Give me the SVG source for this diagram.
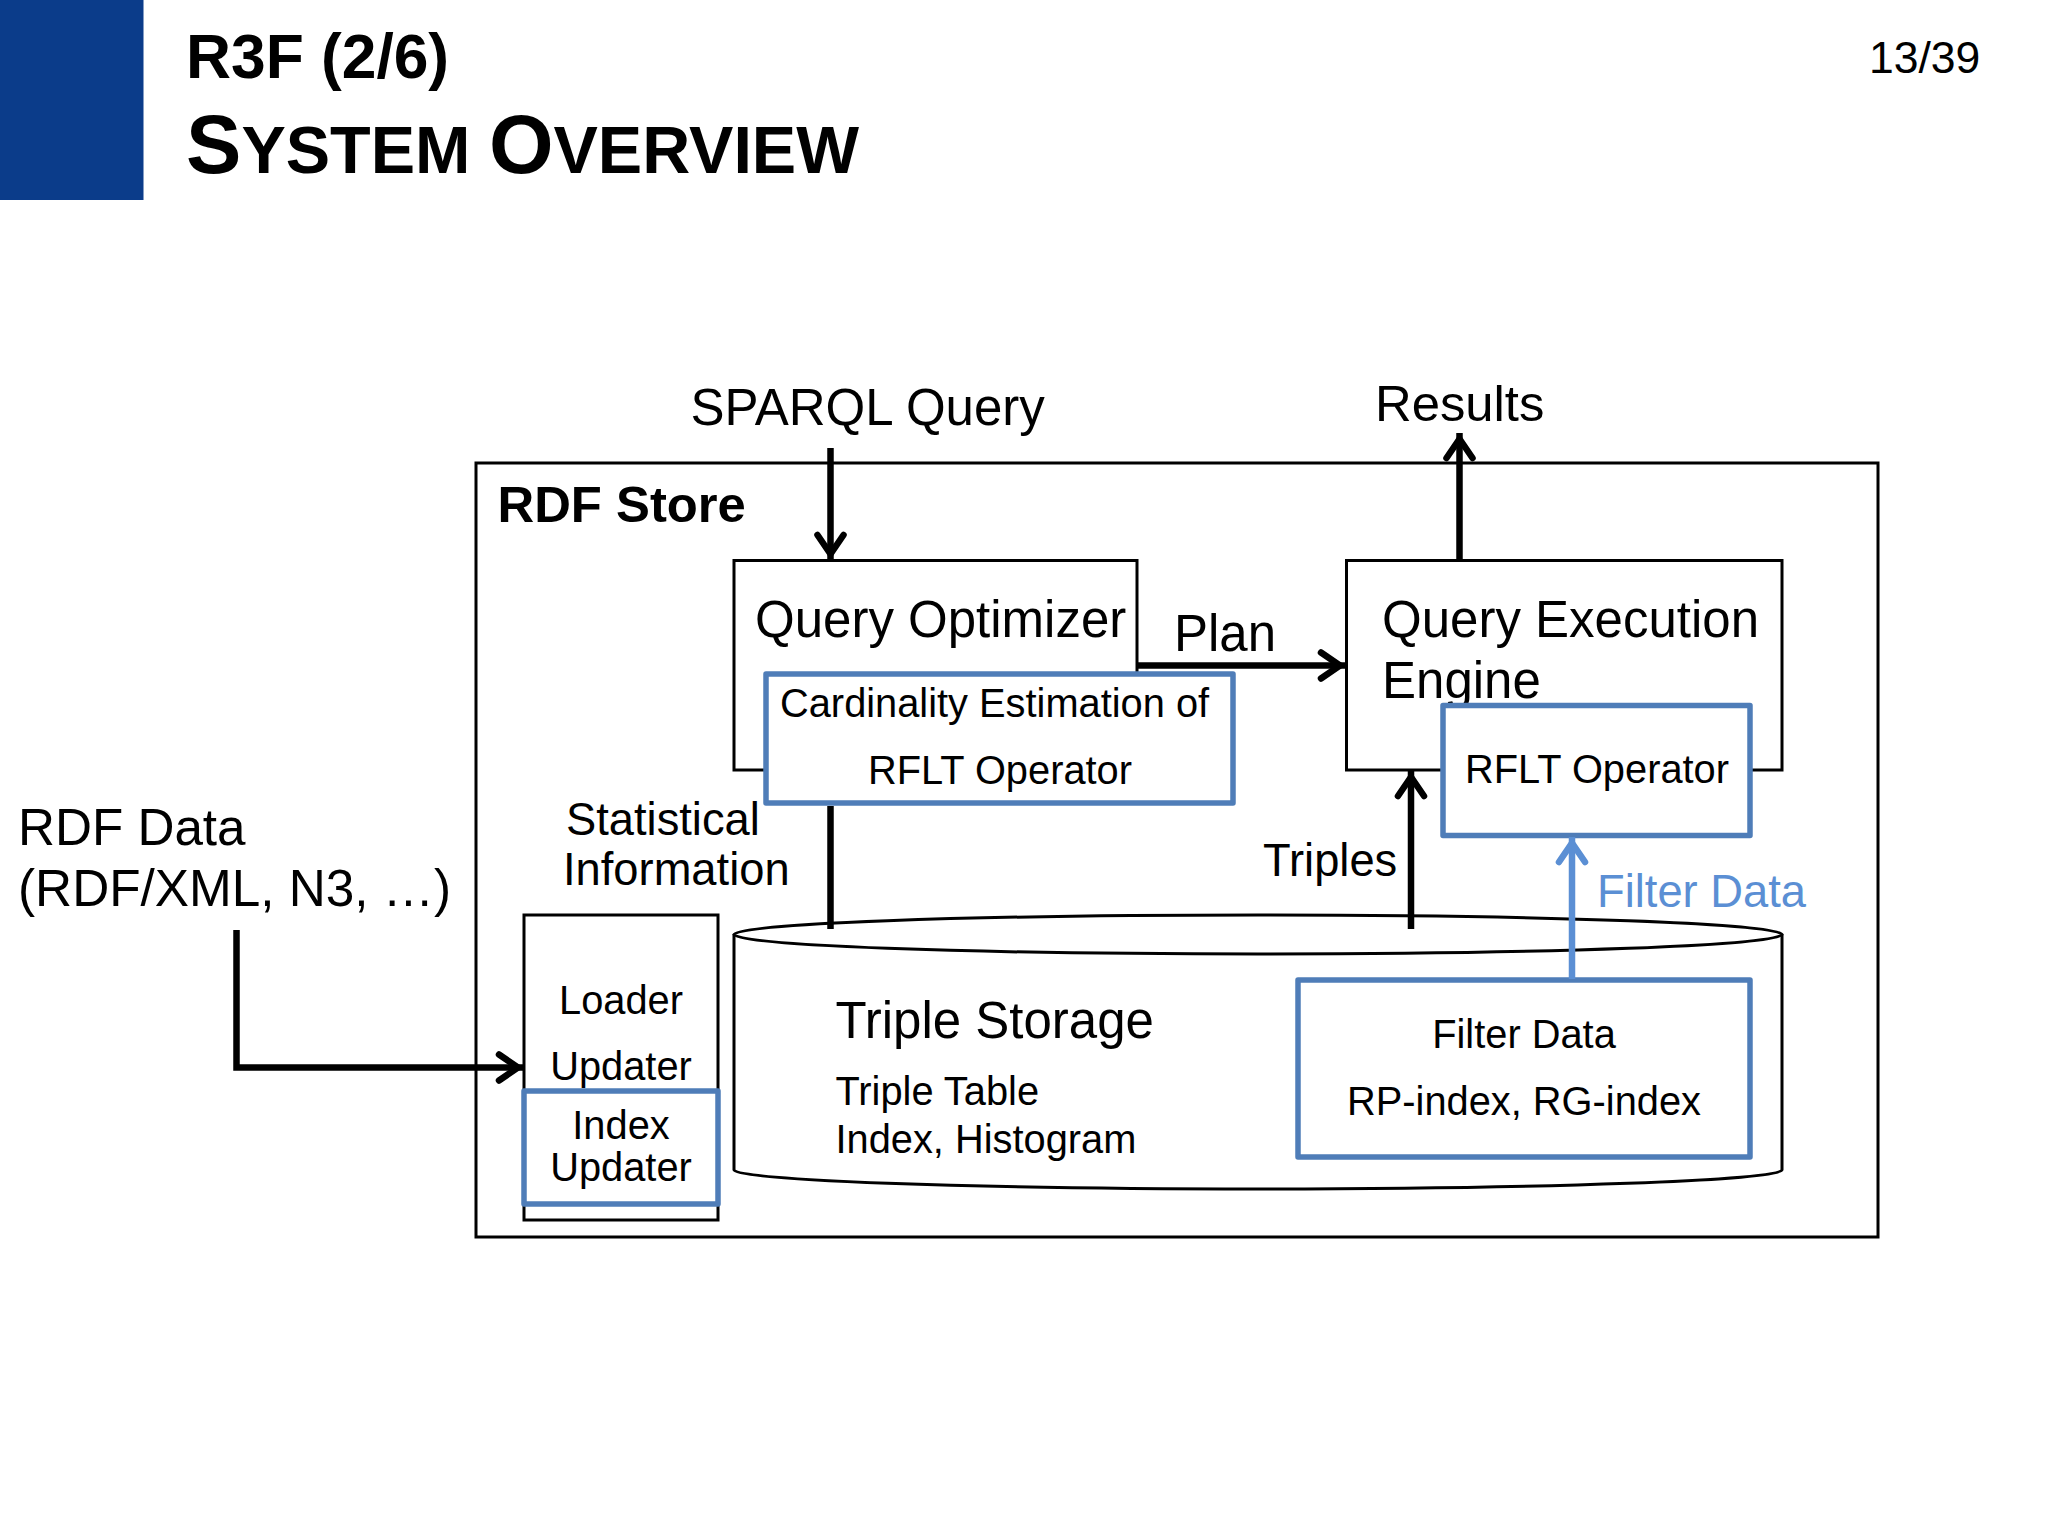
<svg xmlns="http://www.w3.org/2000/svg" width="2048" height="1536" viewBox="0 0 2048 1536">
<style>
text{font-family:"Liberation Sans",Arial,sans-serif;fill:#000}
.l{font-size:51px}.m{font-size:45.300px}.s{font-size:39.800px}
.c{text-anchor:middle}.b{font-weight:700}
.box{fill:#fff;stroke:#000;stroke-width:3}
.blue{fill:#fff;stroke:#4f7db8;stroke-width:5.5;stroke-linejoin:round}
.conn{fill:none;stroke:#000;stroke-width:6.500}
.cb{fill:none;stroke:#5b8fd4;stroke-width:6.500}
</style>
<defs>
<marker id="ah" markerUnits="userSpaceOnUse" markerWidth="50" markerHeight="50" refX="32" refY="20" viewBox="0 0 50 40" orient="auto"><path d="M7,7 L26,20 L7,33" fill="none" stroke="#000" stroke-width="6.500" stroke-linecap="round"/></marker>
<marker id="ahb" markerUnits="userSpaceOnUse" markerWidth="50" markerHeight="50" refX="32" refY="20" viewBox="0 0 50 40" orient="auto"><path d="M7,7 L26,20 L7,33" fill="none" stroke="#5b8fd4" stroke-width="6.500" stroke-linecap="round"/></marker>
</defs>
<rect width="2048" height="1536" fill="#fff"/>
<g id="header">
<rect x="0" y="0" width="143.500" height="200" fill="#0b3c8a"/>
<text x="186" y="78" class="b" font-size="62.300">R3F (2/6)</text>
<text x="186" y="173" class="b" font-size="83">S<tspan font-size="66.500">YSTEM </tspan>O<tspan font-size="66.500">VERVIEW</tspan></text>
<text x="1869" y="73" font-size="44.500">13/39</text>
</g>
<g id="rdf-data"><text x="18" y="844.500" font-size="51.200">RDF Data</text><text x="18" y="906" font-size="51.300">(RDF/XML, N3, …)</text></g>
<g id="sparql"><text x="690.500" y="425" class="l">SPARQL Query</text></g>
<g id="results"><text x="1375" y="421" font-size="50.800">Results</text></g>
<g id="rdf-store"><rect x="476" y="463" width="1402" height="774" class="box"/><text x="497.500" y="522" class="b" font-size="50.800">RDF Store</text></g>
<g id="query-optimizer"><rect x="734" y="560.500" width="403" height="209.500" class="box"/><text x="755" y="637" class="l">Query Optimizer</text></g>
<g id="cardinality"><rect x="766" y="674" width="467" height="129" class="blue"/><text x="780" y="717" class="s">Cardinality Estimation of</text><text x="1000" y="784" class="s c">RFLT Operator</text></g>
<g id="plan-label"><text x="1174" y="651" class="l">Plan</text></g>
<g id="query-engine"><rect x="1346.500" y="560.500" width="435.500" height="209.500" class="box"/><text x="1382" y="637" class="l">Query Execution</text><text x="1382" y="698" class="l">Engine</text></g>
<g id="rflt"><rect x="1443" y="705.500" width="307" height="130" class="blue"/><text x="1597" y="783" class="s c">RFLT Operator</text></g>
<g id="stat-label"><text x="566" y="834.500" class="m">Statistical</text><text x="563" y="885" class="m">Information</text></g>
<g id="triples-label"><text x="1263" y="876" class="m">Triples</text></g>
<g id="filter-label"><text x="1597" y="907" class="m" style="fill:#5b8fd4">Filter Data</text></g>
<g id="loader"><rect x="524" y="915" width="194" height="305" class="box"/><text x="621" y="1014" class="s c">Loader</text><text x="621" y="1080" class="s c">Updater</text></g>
<g id="index-updater"><rect x="524" y="1091" width="194" height="113" class="blue"/><text x="621" y="1139" class="s c">Index</text><text x="621" y="1181" class="s c">Updater</text></g>
<g id="triple-storage">
<path d="M734,934 V1170 C734,1180 970,1189 1258,1189 C1546,1189 1782,1180 1782,1170 V934" class="box"/>
<ellipse cx="1258" cy="934.500" rx="524" ry="19.500" class="box"/>
<text x="835.500" y="1037.500" class="l">Triple Storage</text>
<text x="835.500" y="1105" class="s">Triple Table</text>
<text x="835.500" y="1153" class="s">Index, Histogram</text>
</g>
<g id="filter-data"><rect x="1298" y="980" width="452" height="177" class="blue"/><text x="1524" y="1048" class="s c">Filter Data</text><text x="1524" y="1115" class="s c">RP-index, RG-index</text></g>
<g id="connectors">
<path d="M830.500,448 V560" class="conn" marker-end="url(#ah)"/>
<path d="M830.500,806 V929" class="conn"/>
<path d="M1137,665.500 H1346" class="conn" marker-end="url(#ah)"/>
<path d="M1459.500,560 V433" class="conn" marker-end="url(#ah)"/>
<path d="M1411,929 V771" class="conn" marker-end="url(#ah)"/>
<path d="M1572,979 V837" class="cb" marker-end="url(#ahb)"/>
<path d="M236.500,930 V1067.500 H524" class="conn" marker-end="url(#ah)"/>
</g>
</svg>
